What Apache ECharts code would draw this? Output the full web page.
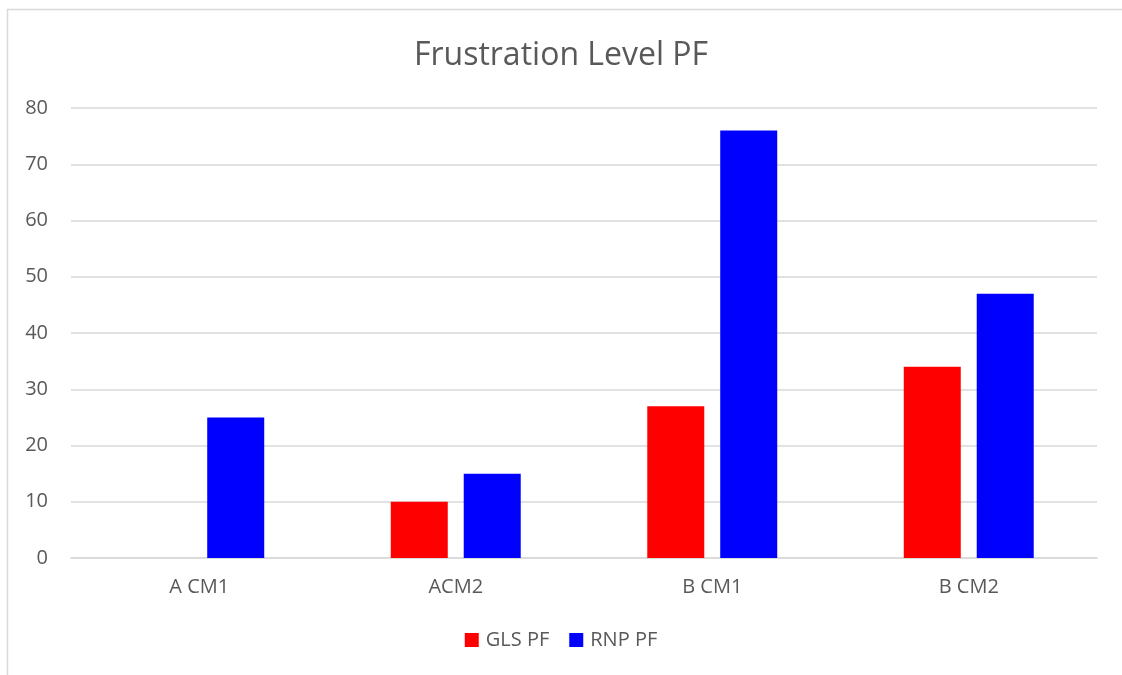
<!DOCTYPE html>
<html><head><meta charset="utf-8">
<script src="https://cdn.jsdelivr.net/npm/echarts@6/dist/echarts.min.js"></script>
<style>html,body{margin:0;padding:0;background:#fff}#c{width:1122px;height:675px}</style>
</head><body><div id="c"></div>
<script>
const categories = ['A CM1', 'ACM2', 'B CM1', 'B CM2'];
const glsPF = [0, 10, 27, 34];
const rnpPF = [25, 15, 76, 47];
const yTicks = [0, 10, 20, 30, 40, 50, 60, 70, 80];

const chart = echarts.init(document.getElementById('c'), null, {renderer: 'canvas'});
const font = '"Open Sans", "Liberation Sans", sans-serif';
chart.setOption({
  animation: false,
  backgroundColor: '#fff',
  graphic: [{
    type: 'rect', shape: {x: 7.5, y: 9.5, width: 1130, height: 700},
    style: {fill: 'none', stroke: '#d9d9d9', lineWidth: 1.5}, silent: true, z: -1
  }],
  title: {
    text: 'Frustration Level PF', left: 'center', top: 35,
    textStyle: {fontFamily: font, fontSize: 32, fontWeight: 'normal', color: '#595959'}
  },
  legend: {
    data: ['GLS PF', 'RNP PF'], bottom: 20, left: 'center',
    itemWidth: 14, itemHeight: 14, itemGap: 20, icon: 'rect',
    textStyle: {fontFamily: font, fontSize: 20, color: '#595959', padding: [0, 0, 0, 2]}
  },
  grid: {left: 71, right: 25, top: 108, bottom: 117, containLabel: false},
  xAxis: {
    type: 'category', data: categories,
    axisLine: {show: true, lineStyle: {color: '#d9d9d9', width: 1.5}},
    axisTick: {show: false},
    axisLabel: {fontFamily: font, fontSize: 20, color: '#595959', margin: 19}
  },
  yAxis: {
    type: 'value', min: yTicks[0], max: yTicks[yTicks.length - 1], interval: 10,
    axisLine: {show: false}, axisTick: {show: false},
    splitLine: {lineStyle: {color: '#d9d9d9', width: 1.5}},
    axisLabel: {fontFamily: font, fontSize: 20, color: '#595959', margin: 23}
  },
  series: [
    {name: 'GLS PF', type: 'bar', data: glsPF, barWidth: 57, barGap: '28%', itemStyle: {color: '#ff0000'}},
    {name: 'RNP PF', type: 'bar', data: rnpPF, barWidth: 57, barGap: '28%', itemStyle: {color: '#0000ff'}}
  ]
});
</script></body></html>
